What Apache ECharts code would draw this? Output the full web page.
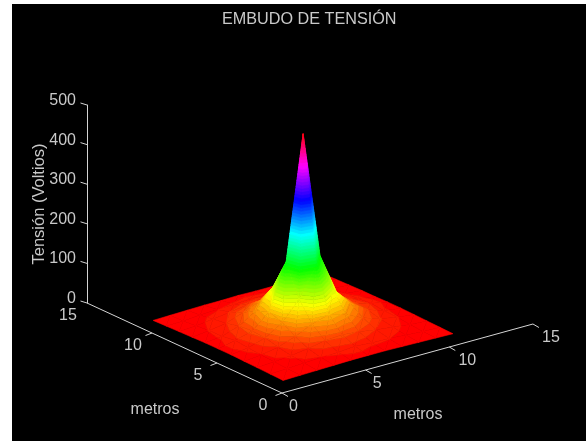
<!DOCTYPE html>
<html>
<head>
<meta charset="utf-8">
<style>html,body{margin:0;padding:0;background:#fff}#c{width:586px;height:441px}</style>
<script src="https://cdn.jsdelivr.net/npm/echarts@6/dist/echarts.min.js"></script>
</head>
<body>
<div id="c"></div>
<script>
var titleText = 'EMBUDO DE TENSIÓN';
var zName = 'Tensión (Voltios)';
var groundName = 'metros';
var xTicks = [0, 5, 10, 15];
var yTicks = [0, 5, 10, 15];
var zTicks = [0, 100, 200, 300, 400, 500];
var xs = [1, 2.02, 3.03, 4.05, 5.06, 6.08, 7.09, 8.11, 9.12, 10.14, 11.15];
var ys = [1.2, 2.2, 3.2, 4.2, 5.2, 6.2, 7.2, 8.2, 9.2, 10.2, 11.2];
var row0  = [2, 3, 4, 5, 6, 6, 6, 5, 4, 3, 2];
var row1  = [3, 5, 7, 9, 11, 14, 11, 10, 7, 4, 3];
var row2  = [4, 7, 11, 17, 25, 28, 24, 17, 12, 7, 4];
var row3  = [5, 9, 17, 32, 52, 64, 52, 32, 18, 10, 5];
var row4  = [6, 12, 25, 52, 100, 172, 102, 54, 26, 11, 6];
var row5  = [6, 15, 28, 64, 176, 490, 170, 64, 27, 15, 6];
var row6  = [6, 11, 25, 52, 100, 170, 100, 52, 24, 12, 5];
var row7  = [5, 10, 17, 32, 50, 62, 50, 32, 18, 9, 5];
var row8  = [4, 7, 12, 18, 24, 26, 23, 19, 11, 7, 4];
var row9  = [3, 4, 7, 9, 11, 13, 12, 9, 7, 5, 3];
var row10 = [2, 3, 4, 5, 5, 6, 5, 5, 4, 3, 2];
var zRows = [row0, row1, row2, row3, row4, row5, row6, row7, row8, row9, row10];

var textColor = '#c9c9c9';
var lineColor = '#d4d4d4';
var fontFamily = '"Liberation Sans", Arial, sans-serif';
var zMin = 2, zMax = 490, levels = 64;

// oblique view of the ground plane: pixels per metre
var ux = 16.73, uy = -4.6, vx = -13, vy = -6;
var baseDx = 195, baseDy = 90;

function project(api, x, y, z) {
  var p = api.coord([0, z]);
  return [p[0] + baseDx + ux * x + vx * y, p[1] + baseDy + uy * x + vy * y];
}
function hsvColor(h) {
  var i = Math.floor(h * 6), f = h * 6 - i, q = 1 - f, r, g, b;
  switch (i % 6) {
    case 0: r = 1; g = f; b = 0; break;
    case 1: r = q; g = 1; b = 0; break;
    case 2: r = 0; g = 1; b = f; break;
    case 3: r = 0; g = q; b = 1; break;
    case 4: r = f; g = 0; b = 1; break;
    default: r = 1; g = 0; b = q;
  }
  return 'rgb(' + Math.round(r * 255) + ',' + Math.round(g * 255) + ',' + Math.round(b * 255) + ')';
}

var cells = [];
for (var j = ys.length - 2; j >= 0; j--) {
  for (var i = xs.length - 2; i >= 0; i--) cells.push([i, j]);
}

// keep the part of a flat polygon on one side of a height level
function clipZ(poly, level, keepAbove) {
  var out = [];
  for (var k = 0; k < poly.length; k++) {
    var a = poly[k], b = poly[(k + 1) % poly.length];
    var ina = keepAbove ? a[2] >= level : a[2] <= level;
    var inb = keepAbove ? b[2] >= level : b[2] <= level;
    if (ina) out.push(a);
    if (ina !== inb) {
      var t = (level - a[2]) / (b[2] - a[2]);
      out.push([a[0] + (b[0] - a[0]) * t, a[1] + (b[1] - a[1]) * t, level]);
    }
  }
  return out;
}

function bands(api, tri, kids) {
  var step = (zMax - zMin) / levels;
  var lo = Math.min(tri[0][2], tri[1][2], tri[2][2]);
  var hi = Math.max(tri[0][2], tri[1][2], tri[2][2]);
  var l0 = Math.max(0, Math.floor((lo - zMin) / step));
  var l1 = Math.min(levels - 1, Math.floor((hi - zMin) / step));
  for (var l = l0; l <= l1; l++) {
    var poly = clipZ(clipZ(tri, zMin + l * step, true), zMin + (l + 1) * step, false);
    if (poly.length < 3) continue;
    var c = hsvColor(l / levels);
    kids.push({ type: 'polygon', silent: true,
      shape: { points: poly.map(function (q) { return project(api, q[0], q[1], q[2]); }) },
      style: { fill: c, stroke: c, lineWidth: 0.6 } });
  }
}

function renderCell(params, api) {
  var i = api.value(0), j = api.value(1);
  var n00 = [xs[i], ys[j], zRows[j][i]];
  var n10 = [xs[i + 1], ys[j], zRows[j][i + 1]];
  var n01 = [xs[i], ys[j + 1], zRows[j + 1][i]];
  var n11 = [xs[i + 1], ys[j + 1], zRows[j + 1][i + 1]];
  var kids = [];
  bands(api, [n00, n11, n01], kids);
  bands(api, [n00, n10, n11], kids);
  return { type: 'group', children: kids };
}

function line(a, b) {
  return { type: 'line', silent: true, shape: { x1: a[0], y1: a[1], x2: b[0], y2: b[1] },
    style: { stroke: lineColor, lineWidth: 1 } };
}
function label(txt, x, y, align) {
  return { type: 'text', silent: true, x: x, y: y,
    style: { text: txt, fill: textColor, font: '16px ' + fontFamily, align: align || 'center', verticalAlign: 'middle' } };
}
function renderAxes(params, api) {
  var kids = [];
  kids.push(line(project(api, 0, 0, 0), project(api, 15, 0, 0)));
  kids.push(line(project(api, 0, 0, 0), project(api, 0, 15, 0)));
  xTicks.forEach(function (t) {
    var p = project(api, t, 0, 0);
    kids.push(line(p, [p[0] + 6, p[1] + 3.5]));
    var s = String(t);
    kids.push(label(s, p[0] + 5 + 6.5 * s.length, p[1] + 13.5));
  });
  yTicks.forEach(function (t) {
    var p = project(api, 0, t, 0);
    if (t !== 15) kids.push(line(p, [p[0] - 6.5, p[1] + 2.5]));
    kids.push(label(String(t), p[0] - 19, p[1] + 12.5));
  });
  zTicks.forEach(function (t) {
    var p = api.coord([0, t]);
    kids.push(line(p, [p[0] - 6.5, p[1] - 2]));
  });
  var o = project(api, 0, 0, 0);
  kids.push(label(groundName, o[0] - 127, o[1] + 17));
  kids.push(label(groundName, o[0] + 136, o[1] + 22));
  return { type: 'group', children: kids };
}

var chart = echarts.init(document.getElementById('c'), null, { renderer: 'canvas' });
chart.setOption({
  animation: false,
  backgroundColor: '#fff',
  title: { text: titleText, left: 217, top: 7,
    textStyle: { color: textColor, fontWeight: 'normal', fontSize: 16.2, fontFamily: fontFamily } },
  graphic: [{ type: 'rect', z: -10, silent: true, shape: { x: 12, y: 4, width: 574, height: 437 }, style: { fill: '#000' } }],
  grid: { left: 87, top: 105, width: 450, height: 198, show: false },
  xAxis: { type: 'value', min: 0, max: 1, show: false },
  yAxis: {
    type: 'value', min: 0, max: 500, interval: 100,
    name: zName, nameLocation: 'middle', nameGap: 39, nameRotate: 90, nameMoveOverlap: false,
    nameTextStyle: { color: textColor, fontSize: 16.5, fontFamily: fontFamily },
    axisLine: { show: true, onZero: false, lineStyle: { color: lineColor, width: 1 } },
    axisTick: { show: false },
    splitLine: { show: false },
    axisLabel: { color: textColor, fontSize: 16, fontFamily: fontFamily, margin: 11, verticalAlign: 'bottom', lineHeight: 9 }
  },
  series: [
    { type: 'custom', renderItem: renderAxes, data: [[0, 0]], silent: true, z: 2, clip: false },
    { type: 'custom', renderItem: renderCell, data: cells, silent: true, z: 3, clip: false }
  ]
});
</script>
</body>
</html>
